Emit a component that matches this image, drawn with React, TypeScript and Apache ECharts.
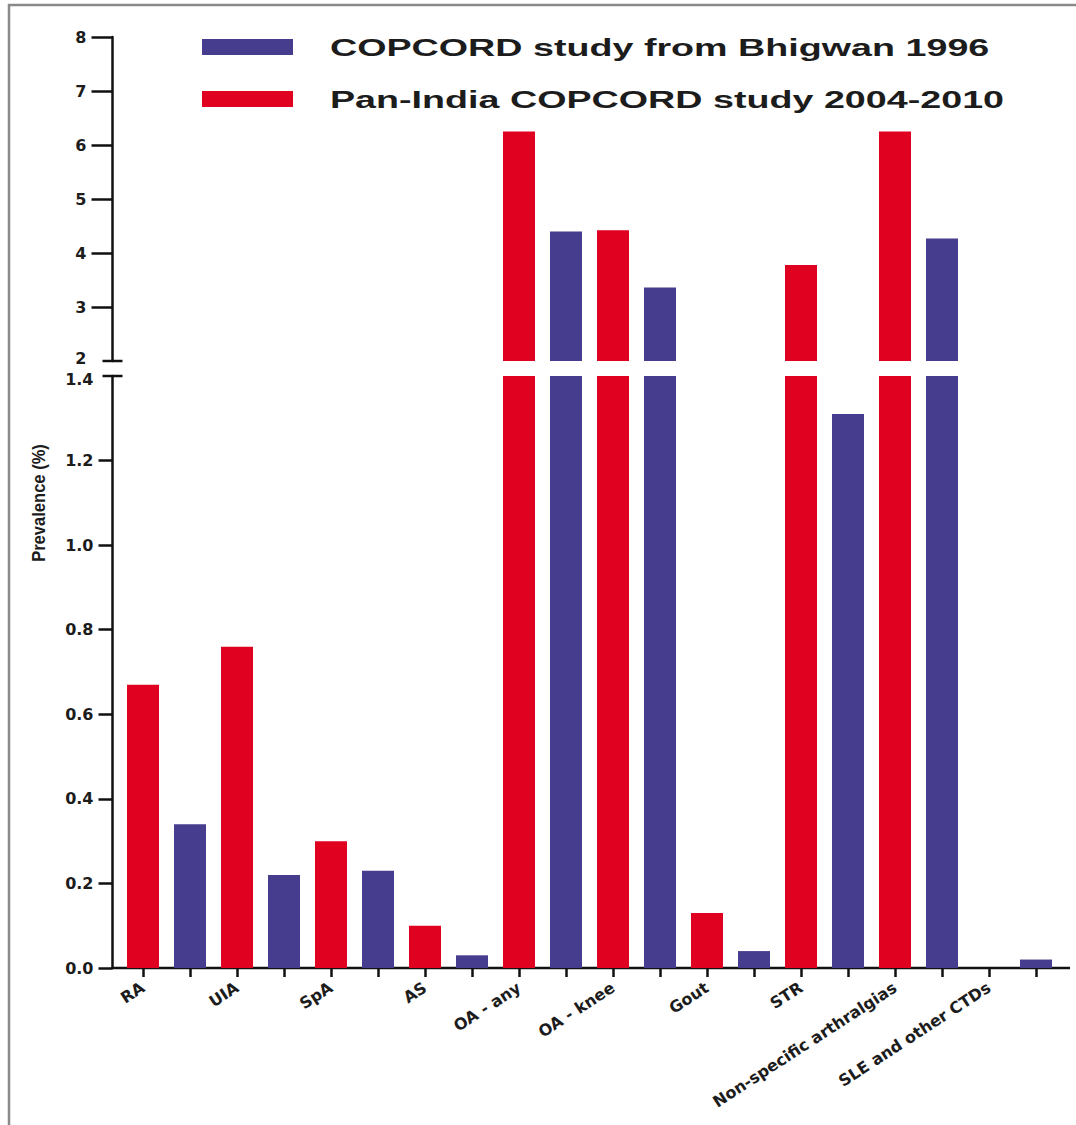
import React, { useEffect, useRef } from "react";
import * as echarts from "echarts";

// ---- data ----
const categories = [
  "RA",
  "UIA",
  "SpA",
  "AS",
  "OA - any",
  "OA - knee",
  "Gout",
  "STR",
  "Non-specific arthralgias",
  "SLE and other CTDs",
];
// Pan-India COPCORD study 2004-2010 (red)
const panIndia: (number | null)[] = [0.67, 0.76, 0.3, 0.1, 6.25, 4.42, 0.13, 3.78, 6.25, null];
// COPCORD study from Bhigwan 1996 (blue)
const bhigwan: (number | null)[] = [0.34, 0.22, 0.23, 0.03, 4.4, 3.36, 0.04, 1.31, 4.27, 0.02];
const upperTicks = [2, 3, 4, 5, 6, 7, 8];
const lowerTicks = [0, 0.2, 0.4, 0.6, 0.8, 1.0, 1.2, 1.4];
const seriesNames = ["COPCORD study from Bhigwan 1996", "Pan-India COPCORD study 2004-2010"];
const yName = "Prevalence (%)";

const BLUE = "#473D8F";
const RED = "#E0001F";
const INK = "#111111";
const TXT = "#1c1c1c";
const TICK_FONT = "'DejaVu Sans', 'Liberation Sans', sans-serif";

export default function App() {
  const ref = useRef<HTMLDivElement>(null);

  useEffect(() => {
    const chart = echarts.init(ref.current!, null, { renderer: "svg" });

    const slots = categories.flatMap((c) => [c, c + " #2"]);
    const redSlots = panIndia.flatMap((v) => [v, null]);
    const blueSlots = bhigwan.flatMap((v) => [null, v]);
    const uMin = upperTicks[0];
    const uMax = upperTicks[upperTicks.length - 1];
    const lMax = lowerTicks[lowerTicks.length - 1];
    const upperOnly = (arr: (number | null)[]) => arr.map((v) => (v != null && v > uMin ? v : null));

    const gridLeft = 119.5;
    const gridWidth = 940;
    const upTop = 37;
    const upH = 324;
    const loTop = 376;
    const loH = 592;
    const axisX = gridLeft - 7;

    const labelBase = {
      color: TXT,
      fontFamily: TICK_FONT,
      fontWeight: "bold",
      fontSize: 16,
    };

    const yAxisCommon = {
      offset: 7,
      axisLine: { show: true, lineStyle: { color: INK, width: 2.5 } },
      splitLine: { show: false },
    };

    const barCommon = {
      type: "bar",
      barWidth: 32,
      barGap: "-100%",
      clip: true,
    };

    chart.setOption({
      animation: false,
      backgroundColor: "#ffffff",
      grid: [
        { left: gridLeft, width: gridWidth, top: upTop, height: upH },
        { left: gridLeft, width: gridWidth, top: loTop, height: loH },
      ],
      xAxis: [
        {
          type: "category",
          gridIndex: 0,
          data: slots,
          show: false,
        },
        {
          type: "category",
          gridIndex: 1,
          data: slots,
          axisLine: { show: false },
          axisTick: {
            show: true,
            alignWithLabel: true,
            interval: 0,
            length: 9,
            lineStyle: { color: INK, width: 2.5 },
          },
          axisLabel: {
            ...labelBase,
            interval: 0,
            rotate: 33,
            margin: 18,
            formatter: (v: string, i: number) => (i % 2 === 0 ? v : ""),
          },
        },
      ],
      yAxis: [
        {
          ...yAxisCommon,
          type: "value",
          gridIndex: 0,
          min: uMin,
          max: uMax,
          interval: 1,
          axisTick: {
            show: true,
            length: 21,
            customValues: upperTicks.slice(1),
            lineStyle: { color: INK, width: 2.5 },
          },
          axisLabel: {
            ...labelBase,
            margin: 26,
            customValues: upperTicks,
            formatter: (v: number) => (v === uMin ? `{lo|${v}}` : `${v}`),
            rich: { lo: { ...labelBase, padding: [0, 0, 6, 0] } },
          },
        },
        {
          ...yAxisCommon,
          type: "value",
          gridIndex: 1,
          min: 0,
          max: lMax,
          interval: 0.2,
          axisTick: {
            show: true,
            length: 14,
            customValues: lowerTicks.slice(0, -1),
            lineStyle: { color: INK, width: 2.5 },
          },
          axisLabel: {
            ...labelBase,
            margin: 19,
            customValues: lowerTicks,
            formatter: (v: number) => (v === lMax ? `{hi|${v.toFixed(1)}}` : v.toFixed(1)),
            rich: { hi: { ...labelBase, padding: [6, 0, 0, 0] } },
          },
        },
      ],
      series: [
        { ...barCommon, name: seriesNames[1], xAxisIndex: 0, yAxisIndex: 0, data: upperOnly(redSlots), itemStyle: { color: RED } },
        { ...barCommon, name: seriesNames[0], xAxisIndex: 0, yAxisIndex: 0, data: upperOnly(blueSlots), itemStyle: { color: BLUE } },
        { ...barCommon, name: seriesNames[1], xAxisIndex: 1, yAxisIndex: 1, data: redSlots, itemStyle: { color: RED } },
        { ...barCommon, name: seriesNames[0], xAxisIndex: 1, yAxisIndex: 1, data: blueSlots, itemStyle: { color: BLUE } },
      ],
      graphic: [
        // frame
        {
          type: "polyline",
          shape: { points: [[9, 1125], [9, 5], [1076, 5]] },
          style: { stroke: "#8a8a8a", lineWidth: 2.5, fill: "none" },
          silent: true,
        },
        // x axis baseline
        {
          type: "line",
          shape: { x1: axisX - 1, y1: loTop + loH, x2: 1070, y2: loTop + loH },
          style: { stroke: INK, lineWidth: 2.5 },
          silent: true,
        },
        // break caps
        {
          type: "line",
          shape: { x1: axisX - 10, y1: upTop + upH, x2: axisX + 10, y2: upTop + upH },
          style: { stroke: INK, lineWidth: 2.5 },
          silent: true,
        },
        {
          type: "line",
          shape: { x1: axisX - 10, y1: loTop, x2: axisX + 10, y2: loTop },
          style: { stroke: INK, lineWidth: 2.5 },
          silent: true,
        },
        // y axis name
        {
          type: "text",
          x: 39,
          y: 503,
          rotation: Math.PI / 2,
          scaleX: 0.92,
          style: {
            text: yName,
            x: 0,
            y: 0,
            align: "center",
            verticalAlign: "middle",
            fill: TXT,
            font: "bold 18px 'Liberation Sans', Arial, sans-serif",
          },
          silent: true,
        },
        // legend
        {
          type: "rect",
          shape: { x: 202, y: 39, width: 91, height: 16 },
          style: { fill: BLUE },
          silent: true,
        },
        {
          type: "rect",
          shape: { x: 202, y: 91, width: 91, height: 16 },
          style: { fill: RED },
          silent: true,
        },
        {
          type: "text",
          x: 330,
          y: 48,
          scaleX: 1.57,
          style: {
            text: seriesNames[0],
            x: 0,
            y: 0,
            align: "left",
            verticalAlign: "middle",
            fill: TXT,
            font: "bold 24px 'Liberation Sans', Arial, sans-serif",
          },
          silent: true,
        },
        {
          type: "text",
          x: 330,
          y: 100,
          scaleX: 1.57,
          style: {
            text: seriesNames[1],
            x: 0,
            y: 0,
            align: "left",
            verticalAlign: "middle",
            fill: TXT,
            font: "bold 24px 'Liberation Sans', Arial, sans-serif",
          },
          silent: true,
        },
      ],
    });

    return () => chart.dispose();
  }, []);

  return (
    <div
      ref={ref}
      style={{ position: "fixed", left: 0, top: 0, width: 1076, height: 1125, background: "#ffffff" }}
    />
  );
}
